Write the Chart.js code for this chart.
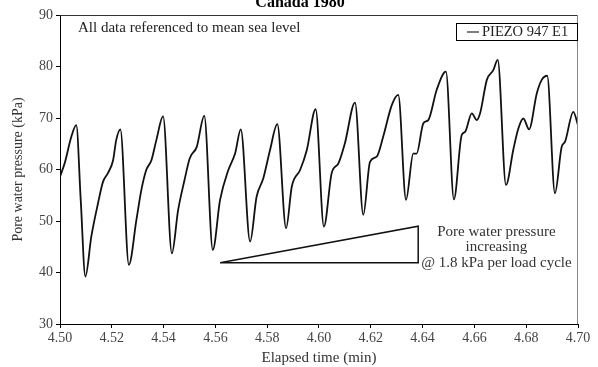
<!DOCTYPE html>
<html>
<head>
<meta charset="utf-8">
<script src="https://cdn.jsdelivr.net/npm/chart.js@4.4.1/dist/chart.umd.min.js"></script>
<style>
  html, body { margin: 0; padding: 0; background: #fff; }
  #wrap { width: 598px; height: 367px; position: relative; }
</style>
</head>
<body>
<div id="wrap"><canvas id="mainChart"></canvas></div>
<script>
// Pore water pressure trace
const timeMin = [
  4.5000, 4.5018, 4.5044, 4.5063, 4.5080, 4.5098, 4.5121, 4.5147, 4.5166, 4.5185,
  4.5205, 4.5217, 4.5233, 4.5266, 4.5295, 4.5314, 4.5333, 4.5353, 4.5372, 4.5398,
  4.5432, 4.5456, 4.5481, 4.5501, 4.5528, 4.5557, 4.5590, 4.5618, 4.5650, 4.5676,
  4.5698, 4.5734, 4.5759, 4.5785, 4.5811, 4.5839, 4.5873, 4.5895, 4.5927, 4.5953,
  4.5987, 4.6019, 4.6049, 4.6075, 4.6100, 4.6139, 4.6171, 4.6197, 4.6223, 4.6248,
  4.6281, 4.6306, 4.6336, 4.6364, 4.6377, 4.6403, 4.6422, 4.6454, 4.6490, 4.6521,
  4.6551, 4.6564, 4.6590, 4.6609, 4.6622, 4.6648, 4.6673, 4.6690, 4.6722, 4.6750,
  4.6770, 4.6789, 4.6811, 4.6841, 4.6860, 4.6881, 4.6911, 4.6937, 4.6950, 4.6982,
  4.7000
];
const pressureKPa = [
  58.6, 61.2, 66.4, 68.6, 54.1, 39.2, 47.0, 53.5, 57.6, 59.3,
  61.8, 65.7, 67.8, 41.5, 50.2, 56.0, 59.9, 61.8, 65.7, 70.3,
  43.7, 52.1, 58.0, 62.2, 64.4, 70.4, 44.4, 54.1, 59.9, 63.1,
  67.8, 46.0, 54.7, 58.3, 63.8, 68.8, 48.6, 56.7, 59.9, 63.8,
  71.7, 48.9, 59.3, 61.2, 65.1, 73.0, 51.2, 61.5, 62.5, 66.4,
  72.5, 74.5, 54.1, 63.1, 63.1, 69.0, 69.6, 75.4, 79.0, 54.2,
  66.7, 67.3, 70.9, 69.6, 70.9, 77.4, 79.3, 81.3, 57.0, 63.8,
  68.0, 69.9, 67.8, 74.8, 77.4, 78.2, 55.4, 64.4, 65.4, 71.2,
  68.6
];

// Trend triangle (1.8 kPa per load cycle)
const triangleT = [4.5618, 4.6383, 4.6383, 4.5618];
const triangleP = [41.9, 41.9, 49.0, 41.9];

const xTicks = [4.50, 4.52, 4.54, 4.56, 4.58, 4.60, 4.62, 4.64, 4.66, 4.68, 4.70];
const yTicks = [30, 40, 50, 60, 70, 80, 90];

const titleText = 'Canada 1980';
const noteText = 'All data referenced to mean sea level';
const trendText = ['Pore water pressure', 'increasing', '@ 1.8 kPa per load cycle'];
const seriesName = 'PIEZO 947 E1';

const FONT = "'Liberation Serif', 'DejaVu Serif', serif";

const decorPlugin = {
    id: 'decor',
    afterDraw(chart) {
        const ctx = chart.ctx;
        const a = chart.chartArea;
        const x = chart.scales.x;
        const y = chart.scales.y;
        ctx.save();

        // top / right frame
        ctx.lineWidth = 1;
        ctx.strokeStyle = '#333';
        ctx.beginPath();
        ctx.moveTo(a.left, a.top + 0.5);
        ctx.lineTo(a.right, a.top + 0.5);
        ctx.stroke();
        ctx.strokeStyle = '#888';
        ctx.beginPath();
        ctx.moveTo(a.right - 0.5, a.top);
        ctx.lineTo(a.right - 0.5, a.bottom);
        ctx.stroke();

        // clipped title at the very top
        ctx.fillStyle = '#000';
        ctx.font = 'bold 16px ' + FONT;
        ctx.textAlign = 'center';
        ctx.textBaseline = 'alphabetic';
        ctx.fillText(titleText, 300, 7);

        // note
        ctx.font = '15px ' + FONT;
        ctx.fillStyle = '#222';
        ctx.textAlign = 'left';
        ctx.textBaseline = 'middle';
        ctx.fillText(noteText, a.left + 18, a.top + 13);

        // legend box
        const bx = 456, by = 23, bw = a.right - 456 - 1, bh = 17;
        ctx.strokeStyle = '#000';
        ctx.lineWidth = 1;
        ctx.strokeRect(bx + 0.5, by + 0.5, bw, bh);
        ctx.beginPath();
        ctx.moveTo(bx + 11, by + 9);
        ctx.lineTo(bx + 23, by + 9);
        ctx.stroke();
        ctx.font = '14.5px ' + FONT;
        ctx.fillStyle = '#222';
        ctx.fillText(seriesName, bx + 26, by + 9.5);

        // trend annotation text
        ctx.textAlign = 'center';
        ctx.font = '15px ' + FONT;
        ctx.fillStyle = '#333';
        const cx = x.getPixelForValue(4.6685);
        const y0 = 232;
        trendText.forEach((t, i) => ctx.fillText(t, cx, y0 + i * 15.5));
        ctx.restore();
    }
};

function initChart() {
    const ctx = document.getElementById('mainChart').getContext('2d');

    chart = new Chart(ctx, {
        type: 'line',
        data: {
            datasets: [
                {
                    label: seriesName,
                    data: timeMin.map((t, i) => ({ x: t, y: pressureKPa[i] })),
                    borderColor: '#111',
                    borderWidth: 1.8,
                    pointRadius: 0,
                    cubicInterpolationMode: 'monotone',
                    fill: false
                },
                {
                    label: 'trend',
                    data: triangleT.map((t, i) => ({ x: t, y: triangleP[i] })),
                    borderColor: '#111',
                    borderWidth: 1.5,
                    pointRadius: 0,
                    tension: 0,
                    fill: false
                }
            ]
        },
        options: {
            responsive: true,
            maintainAspectRatio: false,
            animation: false,
            layout: { padding: { top: 15, right: 20, left: 0, bottom: 0 } },
            plugins: {
                legend: { display: false },
                tooltip: { enabled: false }
            },
            scales: {
                x: {
                    type: 'linear',
                    min: 4.5,
                    max: 4.7,
                    afterBuildTicks: (s) => { s.ticks = xTicks.map(v => ({ value: v })); },
                    afterFit: (s) => { s.height = 43; },
                    border: { display: true, color: '#000', width: 1 },
                    grid: { drawOnChartArea: false, drawTicks: true, tickLength: 4, color: '#000' },
                    ticks: {
                        color: '#444',
                        padding: 2,
                        maxRotation: 0,
                        font: { family: FONT, size: 14 },
                        callback: (v) => Number(v).toFixed(2)
                    },
                    title: {
                        display: true,
                        text: 'Elapsed time (min)',
                        color: '#333',
                        padding: { top: 2, bottom: 0 },
                        font: { family: FONT, size: 15 }
                    }
                },
                y: {
                    min: 30,
                    max: 90,
                    afterBuildTicks: (s) => { s.ticks = yTicks.map(v => ({ value: v })); },
                    afterFit: (s) => { s.width = 60; },
                    border: { display: true, color: '#000', width: 1 },
                    grid: { drawOnChartArea: false, drawTicks: true, tickLength: 4, color: '#000' },
                    ticks: {
                        color: '#444',
                        padding: 3,
                        font: { family: FONT, size: 14 }
                    },
                    title: {
                        display: true,
                        text: 'Pore water pressure (kPa)',
                        color: '#333',
                        padding: { top: 10, bottom: 0 },
                        font: { family: FONT, size: 14 }
                    }
                }
            }
        },
        plugins: [decorPlugin]
    });
}

let chart;
initChart();
</script>
</body>
</html>
